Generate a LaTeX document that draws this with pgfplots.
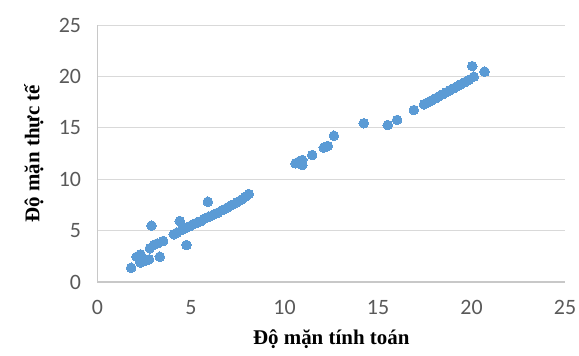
\documentclass[border=0pt]{standalone}
\usepackage{pgfplots}
\pgfplotsset{compat=1.18}
\usepackage{fontspec}
\setmainfont{Liberation Serif}
\newfontfamily\tickfont{Carlito}
\definecolor{ptblue}{HTML}{5B9BD5}
\definecolor{gridgray}{HTML}{D9D9D9}
\definecolor{axisgray}{HTML}{C8C8C8}
\definecolor{ticktext}{HTML}{595959}
\begin{document}
\begin{tikzpicture}
\begin{axis}[
  scale only axis, width=467.5bp, height=257bp,
  xmin=0, xmax=25, ymin=0, ymax=25,
  xtick={0,5,10,15,20,25}, ytick={0,5,10,15,20,25},
  axis x line*=bottom, axis y line*=left,
  axis line style={draw=axisgray, line width=1.2bp, -},
  ymajorgrids, grid style={draw=gridgray, line width=1bp},
  major tick length=0pt,
  /pgf/number format/assume math mode=true,
  tick label style={font=\fontsize{22}{22}\selectfont\tickfont, text=ticktext},
  xticklabel style={anchor=north, yshift=-15bp},
  yticklabel style={anchor=east, xshift=-13bp},
  xlabel={Độ mặn tính toán},
  ylabel={Độ mặn thực tế},
  label style={font=\fontsize{21}{21}\selectfont\bfseries},
  xlabel style={at={(axis description cs:0.5,-0.222)}, anchor=center},
  ylabel style={at={(axis description cs:-0.136,0.5)}, anchor=center},
  clip=false,
]
\addplot[only marks, mark=*, mark size=4.8bp, mark options={fill=ptblue, draw=ptblue, line width=0pt}] coordinates {
(1.80,1.39) (2.09,2.45) (2.30,2.69) (2.30,1.90) (2.45,2.00) (2.60,2.15)
(2.76,2.20) (2.89,5.48) (2.80,3.28) (3.01,3.60) (3.20,3.75) (3.33,2.46)
(3.51,3.99) (4.08,4.64) (4.25,4.80) (4.40,5.93) (4.50,5.05) (4.76,3.60)
(4.70,5.25) (4.90,5.40) (5.10,5.60) (5.30,5.75) (5.50,5.90) (5.70,6.15)
(5.90,7.81) (5.95,6.35) (6.20,6.55) (6.45,6.75) (6.70,7.00) (6.95,7.25)
(7.20,7.50) (7.45,7.75) (7.70,8.00) (7.90,8.30) (8.09,8.56)
(10.59,11.54) (10.77,11.71) (10.95,11.87) (10.95,11.38) (11.48,12.35)
(12.10,13.07) (12.32,13.23) (12.64,14.23) (14.24,15.44) (15.52,15.27)
(16.02,15.76) (16.92,16.73) (17.46,17.28) (17.65,17.45) (17.85,17.65)
(18.05,17.85) (18.25,18.05) (18.45,18.25) (18.65,18.45) (18.85,18.65)
(19.05,18.85) (19.25,19.05) (19.45,19.25) (19.65,19.45) (19.85,19.65)
(20.12,19.97) (20.04,21.00) (20.70,20.46)
};
\end{axis}
\pgfresetboundingbox
\path[use as bounding box] ([xshift=-97.5bp,yshift=-74bp]current axis.south west) rectangle ([xshift=14bp,yshift=25bp]current axis.north east);
\end{tikzpicture}
\end{document}
